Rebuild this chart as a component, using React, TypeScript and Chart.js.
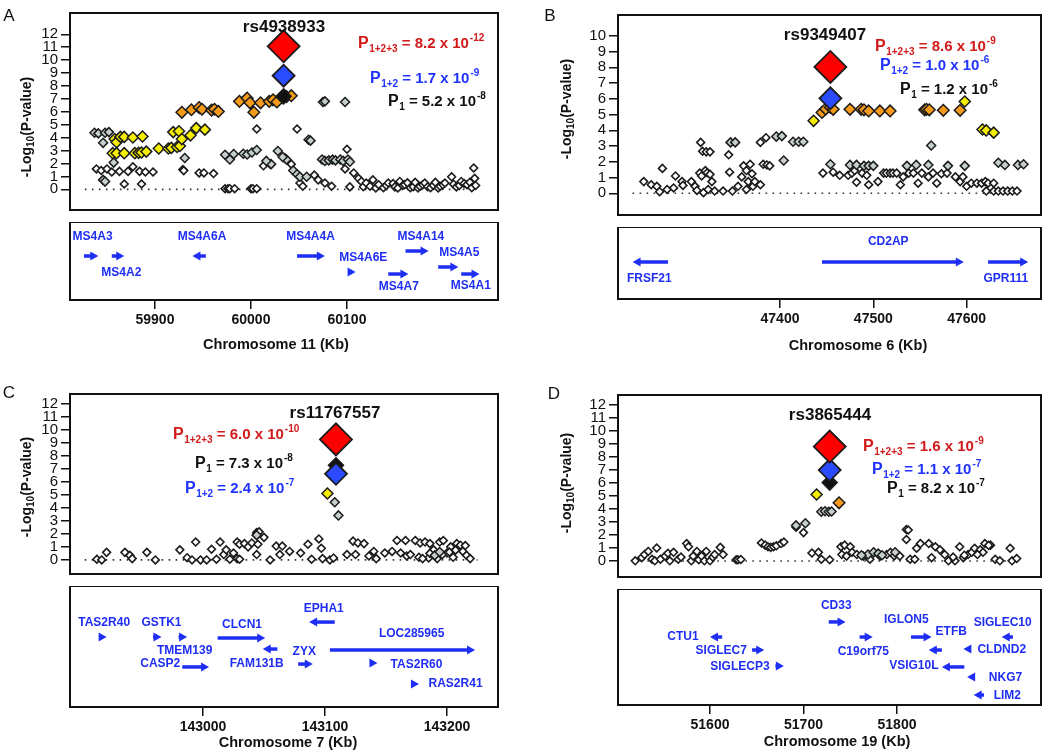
import React, { useEffect, useRef } from 'react';
import { Chart, registerables } from 'chart.js';
Chart.register(...registerables);

const FONT = '"Liberation Sans", Arial, Helvetica, sans-serif';
const GENE_BLUE = '#1f2ef5';

type P = [number, number];
type Gene = [string, number, number, number, number, number, number]; // name, start, end, strand, lane, labelKb, labelLane
type PV = [string, string, string, string]; // colour, subscript, value, exponent

// ================= Panel A (chr 11) =================
const xTicksA = [59900, 60000, 60100];
const yTicksA = [0, 1, 2, 3, 4, 5, 6, 7, 8, 9, 10, 11, 12];
const whiteA: P[] = [
  [59839, 1.58], [59844, 1.46], [59850, 1.58], [59855, 1.34], [59863, 1.39], [59872, 1.39], [59877, 1.75], [59884, 1.39], [59890, 1.34], [59898, 1.34], [59868, 0.41], [59886, 0.41],
  [59929, 1.53], [59930, 1.45], [59946, 1.27], [59951, 1.27], [59961, 1.22],
  [59973, 0.05], [59976, 0.05], [59978, 0.05], [59983, 0.05], [60000, 0.05], [60002, 0.05], [60006, 0.05],
  [60006, 4.67], [60013, 1.82], [60020, 1.95], [60048, 4.67], [60100, 3.1], [60042, 1.95],
  [60051, 0.49], [60054, 0.24], [60066, 1.1], [60070, 0.73], [60077, 0.49], [60084, 0.24], [60098, 1.58], [60107, 1.27], [60103, 0.19],
  [60112, 0.85], [60115, 0.61], [60117, 0.2], [60120, 0.49], [60124, 0.24], [60127, 0.73], [60130, 0.1], [60133, 0.36], [60138, 0.12], [60141, 0.3], [60143, 0.49],
  [60148, 0.45], [60150, 0.19], [60153, 0.1], [60155, 0.61], [60158, 0.3], [60160, 0.36], [60163, 0.5], [60166, 0.12], [60169, 0.2], [60171, 0.54], [60174, 0.1],
  [60176, 0.24], [60179, 0.35], [60181, 0.49], [60184, 0.2], [60187, 0.12], [60190, 0.3], [60192, 0.54], [60195, 0.1], [60197, 0.24], [60200, 0.35], [60202, 0.49],
  [60209, 0.97], [60211, 0.4], [60214, 0.19], [60217, 0.3], [60219, 0.61], [60222, 0.45], [60225, 0.36], [60228, 0.55], [60230, 0.12], [60232, 1.65], [60233, 0.85], [60234, 0.3],
];
const grayA: P[] = [
  [59837, 4.38], [59841, 4.33], [59848, 4.38], [59852, 4.43], [59846, 3.6], [59857, 2.07], [59846, 0.73], [59848, 0.6],
  [59931, 2.43], [59973, 2.68], [59978, 2.31], [59982, 2.73], [59992, 2.75], [59996, 2.7], [60001, 2.85], [60006, 3.04], [60028, 2.97], [60035, 2.43],
  [60037, 2.31], [60033, 2.5], [60021, 1.95], [60016, 2.2], [60044, 1.46], [60048, 1.17], [60051, 0.97], [60058, 0.97], [60060, 3.84], [60062, 3.77],
  [60075, 6.76], [60077, 6.81], [60098, 6.76], [60074, 2.31], [60077, 2.2], [60081, 2.24], [60085, 2.3], [60088, 2.24], [60093, 2.31], [60096, 2.2], [60101, 2.31], [60103, 2.14],
];
const yellowA: P[] = [
  [59856, 2.8], [59858, 3.89], [59860, 3.65], [59860, 2.8], [59864, 4.06], [59868, 4.06], [59868, 2.8], [59877, 4.01], [59879, 2.8], [59883, 2.82], [59886, 2.85],
  [59887, 4.09], [59891, 2.92], [59904, 3.16], [59914, 3.16], [59917, 3.21], [59919, 4.43], [59923, 3.28], [59925, 4.5], [59926, 3.36], [59928, 3.89], [59937, 4.18], [59943, 4.74], [59952, 4.62],
];
const orangeA: P[] = [
  [59928, 5.96], [59938, 6.16], [59946, 6.33], [59949, 6.2], [59959, 6.13], [59962, 6.2], [59966, 6.03], [59988, 6.81], [59996, 7.06], [59999, 6.7],
  [60003, 5.96], [60010, 6.7], [60019, 6.81], [60023, 6.93], [60027, 6.76], [60033, 7.1], [60037, 7.18], [60042, 7.25],
];
const blackA: P[] = [[60034, 7.2]];
const blueA: P[] = [[60034, 8.8]];
const redA: P[] = [[60034, 11.07]];
const baselineA = [59827, 60235];
const pValsA: PV[] = [['red', '1+2+3', '8.2', '-12'], ['blue', '1+2', '1.7', '-9'], ['black', '1', '5.2', '-8']];
const genesA: Gene[] = [
  ['MS4A3', 59826, 59841, 1, 43.6, 59835, 19.2],
  ['MS4A2', 59855, 59868, 1, 43.6, 59865, 65.4],
  ['MS4A6A', 59939, 59953, -1, 43.6, 59949, 19.2],
  ['MS4A4A', 60048, 60077, 1, 43.6, 60062, 19.2],
  ['MS4A6E', 60101, 60109, 1, 64.1, 60117, 46.2],
  ['MS4A14', 60161, 60185, 1, 37.2, 60177, 19.2],
  ['MS4A7', 60143, 60164, 1, 66.7, 60154, 83.3],
  ['MS4A5', 60195, 60216, 1, 57.7, 60217, 39.7],
  ['MS4A1', 60219, 60238, 1, 66.7, 60229, 82],
];

// ================= Panel B (chr 6) =================
const xTicksB = [47400, 47500, 47600];
const yTicksB = [0, 1, 2, 3, 4, 5, 6, 7, 8, 9, 10];
const whiteB: P[] = [
  [47254, 0.74], [47262, 0.54], [47268, 0.44], [47274, 1.58], [47271, 0.1], [47279, 0.24], [47286, 0.34], [47288, 1.1], [47295, 0.74], [47296, 0.5],
  [47305, 0.74], [47309, 0.44], [47311, 0.18], [47314, 1.28], [47316, 1.1], [47318, 0.04], [47320, 1.44], [47317, 2.67], [47321, 2.63], [47325, 2.63],
  [47323, 0.24], [47327, 0.74], [47330, 0.14], [47322, 1.3], [47325, 1.2], [47315, 3.23],
  [47339, 0.14], [47345, 2.44], [47346, 1.34], [47349, 0.14], [47355, 0.44], [47359, 1.04], [47361, 1.74], [47364, 1.44], [47366, 0.74], [47364, 0.24],
  [47368, 1.84], [47370, 1.24], [47371, 0.44], [47373, 0.74], [47379, 0.54], [47379, 3.23], [47385, 3.53], [47382, 1.84], [47386, 1.8], [47389, 1.74],
  [47446, 1.28], [47457, 1.34], [47464, 1.14], [47473, 1.14], [47477, 1.28], [47480, 1.44], [47482, 0.7], [47488, 1.28], [47493, 1.14], [47495, 0.54],
  [47505, 0.74], [47511, 1.28], [47514, 1.28], [47518, 1.28], [47521, 1.28], [47525, 1.28], [47529, 0.54], [47532, 1.04], [47538, 1.28], [47543, 1.28],
  [47548, 0.64], [47552, 1.28], [47559, 1.04], [47564, 1.28], [47568, 0.64], [47573, 1.24], [47579, 1.28], [47588, 1.04], [47593, 0.74], [47596, 1.04],
  [47600, 0.44], [47605, 0.64], [47611, 0.64], [47616, 0.64], [47620, 0.74], [47623, 0.64], [47629, 0.64], [47621, 0.14], [47629, 0.14], [47634, 0.14],
  [47639, 0.14], [47644, 0.14], [47649, 0.14], [47654, 0.14],
];
const grayB: P[] = [
  [47347, 3.23], [47352, 3.23], [47396, 3.6], [47402, 3.63], [47414, 3.27], [47420, 3.27], [47425, 3.27], [47404, 2.08],
  [47454, 1.84], [47475, 1.8], [47482, 1.8], [47490, 1.74], [47495, 1.74], [47500, 1.74], [47536, 1.74], [47546, 1.8], [47559, 1.8], [47562, 3.03],
  [47580, 1.74], [47598, 1.74], [47634, 1.94], [47641, 1.8], [47655, 1.8], [47661, 1.84],
];
const yellowB: P[] = [[47436, 4.6], [47598, 5.83], [47617, 4.05], [47621, 3.99], [47629, 3.85]];
const orangeB: P[] = [
  [47445, 5.13], [47449, 5.35], [47454, 5.45], [47457, 5.33], [47475, 5.33], [47487, 5.33], [47490, 5.3], [47495, 5.23], [47507, 5.23], [47518, 5.23],
  [47555, 5.3], [47557, 5.33], [47560, 5.3], [47575, 5.27], [47593, 5.27],
];
const blackB: P[] = [[47454, 5.92]];
const blueB: P[] = [[47454, 6.03]];
const redB: P[] = [[47454, 8.02]];
const baselineB = [47242, 47657];
const pValsB: PV[] = [['red', '1+2+3', '8.6', '-9'], ['blue', '1+2', '1.0', '-6'], ['black', '1', '1.2', '-6']];
const genesB: Gene[] = [
  ['FRSF21', 47242, 47280, -1, 48.6, 47260, 72.2],
  ['CD2AP', 47445, 47597, 1, 48.6, 47516, 20.8],
  ['GPR111', 47623, 47666, 1, 48.6, 47642, 72.2],
];

// ================= Panel C (chr 7) =================
const xTicksC = [143000, 143100, 143200];
const yTicksC = [0, 1, 2, 3, 4, 5, 6, 7, 8, 9, 10, 11, 12];
const whiteC: P[] = [
  [142913, 0.05], [142917, 0], [142921, 0.58], [142936, 0.58], [142940, 0.35], [142942, 0.1], [142954, 0.58], [142961, 0], [142981, 0.77], [142987, 0.17],
  [142991, 0], [142994, 1.37], [142998, 0], [143003, 0], [143007, 0.82], [143011, 0.05], [143014, 1.37], [143017, 0.41], [143019, 0.77], [143022, 0.05],
  [143025, 0.53], [143028, 0.1], [143030, 0.05], [143028, 1.37], [143030, 1.2], [143034, 1.25], [143037, 1.0], [143040, 1.3], [143044, 2.09], [143046, 2.15],
  [143045, 1.2], [143050, 1.73], [143044, 0.41], [143055, 0], [143060, 1.06], [143065, 1.06], [143063, 0.41], [143071, 0.65], [143080, 0.53], [143086, 1.2],
  [143089, 0.05], [143095, 1.61], [143097, 0.89], [143098, 0.1], [143104, 0], [143107, 0.15], [143118, 0.41], [143123, 1.44], [143125, 0.41], [143127, 1.3],
  [143132, 1.25], [143136, 0.3], [143140, 0.65], [143142, 0.1], [143149, 0.53], [143155, 0.65], [143159, 1.49], [143162, 0.53], [143166, 1.49], [143167, 0.3],
  [143170, 0.41], [143174, 1.49], [143177, 0.2], [143178, 1.3], [143182, 1.37], [143185, 0.15], [143186, 1.25], [143189, 0.77], [143192, 0.1], [143194, 1.37],
  [143197, 1.49], [143200, 0.53], [143203, 1.0], [143205, 0.2], [143208, 1.25], [143211, 1.13], [143213, 0.65], [143215, 1.1], [143216, 0.35], [143219, 0.1],
  [143196, 0.4], [143202, 0.6], [143207, 0.75], [143186, 0.5], [143180, 0.1],
];
const grayC: P[] = [[143108, 4.42], [143111, 3.41], [143190, 0.35], [143194, 0.6], [143044, 1.9]];
const yellowC: P[] = [[143102, 5.09]];
const orangeC: P[] = [];
const blackC: P[] = [[143109, 7.25]];
const blueC: P[] = [[143109, 6.6]];
const redC: P[] = [[143109, 9.24]];
const baselineC = [142903, 143225];
const pValsC: PV[] = [['red', '1+2+3', '6.0', '-10'], ['black', '1', '7.3', '-8'], ['blue', '1+2', '2.4', '-7']];
const genesC: Gene[] = [
  ['TAS2R40', 142915, 142921, 1, 42.1, 142919, 30.6],
  ['GSTK1', 142959, 142966, 1, 42.1, 142966, 30.6],
  ['TMEM139', 142980, 142987, 1, 42.1, 142985, 53.7],
  ['CLCN1', 143012, 143051, 1, 43, 143032, 32.2],
  ['FAM131B', 143049, 143061, -1, 52.1, 143044, 64.5],
  ['CASP2', 142983, 143005, 1, 66.9, 142965, 64.5],
  ['ZYX', 143078, 143090, 1, 64.5, 143083, 54.5],
  ['EPHA1', 143087, 143108, -1, 29.8, 143099, 19],
  ['LOC285965', 143104, 143223, 1, 52.9, 143171, 39.7],
  ['TAS2R60', 143138, 143143, 1, 63.6, 143175, 65.3],
  ['RAS2R41', 143172, 143177, 1, 81, 143207, 81],
];

// ================= Panel D (chr 19) =================
const xTicksD = [51600, 51700, 51800];
const yTicksD = [0, 1, 2, 3, 4, 5, 6, 7, 8, 9, 10, 11, 12];
const whiteD: P[] = [
  [51520, 0.02], [51527, 0.26], [51530, 0.5], [51534, 0.74], [51538, 0.14], [51541, 0.02], [51543, 1.0], [51547, 0.14], [51552, 0.38], [51555, 0.6],
  [51557, 0.02], [51561, 0.67], [51566, 0.14], [51569, 0.3], [51575, 1.34], [51577, 1.1], [51580, 0.02], [51582, 0.38], [51586, 0.74], [51588, 0.1],
  [51591, 0.38], [51594, 0.02], [51596, 0.74], [51600, 0.02], [51603, 0.3], [51605, 0.5], [51611, 1.05], [51614, 0.5],
  [51628, 0.1], [51630, 0.1], [51633, 0.12],
  [51655, 1.39], [51659, 1.22], [51662, 1.1], [51665, 1.05], [51668, 1.1], [51671, 1.17], [51676, 1.34], [51679, 1.46],
  [51700, 2.18], [51692, 2.6],
  [51709, 0.62], [51716, 0.67], [51719, 0.14], [51728, 0.1], [51740, 1.1], [51741, 0.5], [51744, 1.22], [51746, 0.38], [51750, 1.1], [51752, 0.67],
  [51757, 0.5], [51764, 0.38], [51771, 0.14], [51782, 0.38], [51789, 0.5], [51793, 0.67], [51797, 0.4], [51803, 0.38], [51810, 1.65], [51810, 2.42],
  [51812, 2.38], [51814, 0.14], [51819, 0.14], [51821, 0.98], [51825, 1.34], [51834, 1.34], [51837, 0.26], [51841, 1.1], [51846, 0.86], [51851, 0.5],
  [51855, 0.02], [51862, 0.02], [51867, 1.1], [51871, 0.26], [51876, 0.5], [51880, 0.67], [51883, 0.98], [51889, 0.86], [51892, 0.67], [51894, 1.34],
  [51900, 1.22], [51905, 0.14], [51910, 0.02], [51921, 0.98], [51923, 0.02], [51928, 0.2], [51860, 0.3], [51872, 0.45], [51886, 0.5], [51898, 1.2],
];
const grayD: P[] = [
  [51719, 3.78], [51723, 3.82], [51727, 3.78], [51730, 3.8], [51692, 2.73], [51702, 2.9], [51769, 0.5], [51775, 0.67], [51780, 0.57], [51798, 0.67],
  [51784, 0.45], [51762, 0.45],
];
const yellowD: P[] = [[51714, 5.1]];
const orangeD: P[] = [[51738, 4.46]];
const blackD: P[] = [[51728, 6.01]];
const blueD: P[] = [[51728, 6.97]];
const redD: P[] = [[51728, 8.77]];
const baselineD = [51518, 51929];
const pValsD: PV[] = [['red', '1+2+3', '1.6', '-9'], ['blue', '1+2', '1.1', '-7'], ['black', '1', '8.2', '-7']];
const genesD: Gene[] = [
  ['CD33', 51727, 51745, 1, 28.4, 51735, 14.7],
  ['IGLON5', 51815, 51837, 1, 41.4, 51810, 26.7],
  ['C19orf75', 51760, 51774, 1, 41.4, 51764, 54.3],
  ['ETFB', 51834, 51848, -1, 52.6, 51858, 37.1],
  ['SIGLEC10', 51912, 51924, -1, 41.4, 51913, 29.3],
  ['CLDND2', 51871, 51878, -1, 51.7, 51912, 52.6],
  ['CTU1', 51600, 51613, -1, 41.4, 51571, 41.4],
  ['SIGLEC7', 51645, 51658, 1, 52.6, 51612, 53.4],
  ['SIGLECP3', 51670, 51679, 1, 66.4, 51632, 67.2],
  ['VSIG10L', 51848, 51872, -1, 67.2, 51818, 66.4],
  ['NKG7', 51875, 51881, -1, 75.9, 51916, 76.7],
  ['LIM2', 51882, 51893, -1, 91.4, 51918, 92.2],
];

// ================= styles & layout =================
const STY: Record<string, { bg: string; r: number; bw: number }> = {
  white: { bg: '#ffffff', r: 3.9, bw: 1.6 },
  gray: { bg: '#c5cfcf', r: 4.5, bw: 1.5 },
  yellow: { bg: '#f6ee00', r: 5.5, bw: 1.5 },
  orange: { bg: '#f59a1b', r: 5.8, bw: 1.5 },
  black: { bg: '#111111', r: 7.5, bw: 1.5 },
  blue: { bg: '#2a4bff', r: 11, bw: 1.8 },
  red: { bg: '#ff0000', r: 16, bw: 1.8 },
};
const PCOL: Record<string, string> = { red: '#d21a1a', blue: '#1f33ff', black: '#111111' };

interface Panel {
  letter: string; letterPos: P; rs: string; rsPos: P; pvals: PV[]; pPos: P[]; yTitlePos: P;
  xMin: number; xMax: number; yMin: number; yMax: number; xTicks: number[]; yTicks: number[];
  xTitle: string; xTitlePos: P;
  boxLeft: number; boxRight: number; yAxisW: number;
  sc: { left: number; top: number; w: number; h: number; padTop: number; padRight: number };
  gn: { left: number; top: number; w: number; h: number; axisH: number; padRight: number };
  white: P[]; gray: P[]; yellow: P[]; orange: P[]; black: P[]; blue: P[]; red: P[]; baseline: number[]; genes: Gene[];
}

const panels: Panel[] = [
  {
    letter: 'A', letterPos: [9, 16], rs: 'rs4938933', rsPos: [284, 27], pvals: pValsA, pPos: [[358, 42], [370, 77], [388, 100]], yTitlePos: [27, 127],
    xMin: 59811.5, xMax: 60257.3, yMin: -1.6, yMax: 13.65, xTicks: xTicksA, yTicks: yTicksA, xTitle: 'Chromosome 11 (Kb)', xTitlePos: [276, 345],
    boxLeft: 70, boxRight: 498, yAxisW: 70,
    sc: { left: 0, top: 0, w: 510, h: 222, padTop: 13, padRight: 12 },
    gn: { left: 0, top: 222, w: 510, h: 140, axisH: 62, padRight: 12 },
    white: whiteA, gray: grayA, yellow: yellowA, orange: orangeA, black: blackA, blue: blueA, red: redA, baseline: baselineA, genes: genesA,
  },
  {
    letter: 'B', letterPos: [550, 16], rs: 'rs9349407', rsPos: [825, 35], pvals: pValsB, pPos: [[875, 45], [880, 64], [900, 88]], yTitlePos: [567, 109],
    xMin: 47226.4, xMax: 47679.7, yMin: -1.38, yMax: 11.32, xTicks: xTicksB, yTicks: yTicksB, xTitle: 'Chromosome 6 (Kb)', xTitlePos: [858, 346],
    boxLeft: 618, boxRight: 1041, yAxisW: 93,
    sc: { left: 525, top: 0, w: 525, h: 227, padTop: 15, padRight: 9 },
    gn: { left: 525, top: 227, w: 525, h: 135, axisH: 63, padRight: 9 },
    white: whiteB, gray: grayB, yellow: yellowB, orange: orangeB, black: blackB, blue: blueB, red: redB, baseline: baselineB, genes: genesB,
  },
  {
    letter: 'C', letterPos: [9, 393], rs: 'rs11767557', rsPos: [335, 413], pvals: pValsC, pPos: [[173, 433], [195, 462], [185, 487]], yTitlePos: [27, 487],
    xMin: 142891, xMax: 143241.8, yMin: -1.08, yMax: 12.72, xTicks: xTicksC, yTicks: yTicksC, xTitle: 'Chromosome 7 (Kb)', xTitlePos: [288, 743],
    boxLeft: 70, boxRight: 498, yAxisW: 70,
    sc: { left: 0, top: 376, w: 510, h: 210, padTop: 18, padRight: 12 },
    gn: { left: 0, top: 586, w: 510, h: 166, axisH: 45, padRight: 12 },
    white: whiteC, gray: grayC, yellow: yellowC, orange: orangeC, black: blackC, blue: blueC, red: redC, baseline: baselineC, genes: genesC,
  },
  {
    letter: 'D', letterPos: [554, 394], rs: 'rs3865444', rsPos: [830, 415], pvals: pValsD, pPos: [[863, 445], [872, 468], [887, 487]], yTitlePos: [567, 483],
    xMin: 51501.6, xMax: 51954, yMin: -1.22, yMax: 12.72, xTicks: xTicksD, yTicks: yTicksD, xTitle: 'Chromosome 19 (Kb)', xTitlePos: [837, 742],
    boxLeft: 618, boxRight: 1041, yAxisW: 93,
    sc: { left: 525, top: 376, w: 525, h: 213, padTop: 19, padRight: 9 },
    gn: { left: 525, top: 589, w: 525, h: 163, axisH: 47, padRight: 9 },
    white: whiteD, gray: grayD, yellow: yellowD, orange: orangeD, black: blackD, blue: blueD, red: redD, baseline: baselineD, genes: genesD,
  },
];

// ================= drawing helpers =================
function drawP(ctx: CanvasRenderingContext2D, x: number, y: number, pv: PV) {
  const [col, sub, val, exp] = pv;
  ctx.fillStyle = PCOL[col];
  ctx.textAlign = 'left';
  ctx.textBaseline = 'alphabetic';
  const base = y + 5.5;
  ctx.font = `bold 16px ${FONT}`;
  ctx.fillText('P', x, base);
  x += ctx.measureText('P').width + 0.5;
  ctx.font = `bold 10px ${FONT}`;
  ctx.fillText(sub, x, base + 4);
  x += ctx.measureText(sub).width;
  const t = ' = ' + val + ' x 10';
  ctx.font = `bold 15px ${FONT}`;
  ctx.fillText(t, x, base);
  x += ctx.measureText(t).width + 1;
  ctx.font = `bold 10px ${FONT}`;
  ctx.fillText(exp, x, base - 7);
}

function drawYTitle(ctx: CanvasRenderingContext2D, cx: number, cy: number) {
  ctx.save();
  ctx.translate(cx, cy);
  ctx.rotate(-Math.PI / 2);
  ctx.fillStyle = '#111';
  ctx.textAlign = 'left';
  ctx.textBaseline = 'middle';
  const big = `bold 14px ${FONT}`;
  const sm = `bold 10px ${FONT}`;
  ctx.font = big;
  const w1 = ctx.measureText('-Log').width;
  const w3 = ctx.measureText('(P-value)').width;
  ctx.font = sm;
  const w2 = ctx.measureText('10').width;
  let x = -(w1 + w2 + w3) / 2;
  ctx.font = big;
  ctx.fillText('-Log', x, 0);
  x += w1;
  ctx.font = sm;
  ctx.fillText('10', x, 4);
  x += w2;
  ctx.font = big;
  ctx.fillText('(P-value)', x, 0);
  ctx.restore();
}

function scatterConfig(p: Panel): any {
  const layers: [string, P[]][] = [
    ['red', p.red], ['blue', p.blue], ['black', p.black], ['orange', p.orange], ['yellow', p.yellow], ['gray', p.gray], ['white', p.white],
  ];
  const datasets: any[] = layers.map(([k, pts]) => ({
    type: 'scatter',
    data: pts.map(([x, y]) => ({ x, y })),
    pointStyle: 'rectRot',
    pointRadius: STY[k].r,
    pointHoverRadius: STY[k].r,
    pointBackgroundColor: STY[k].bg,
    pointBorderColor: '#1b1b1b',
    pointBorderWidth: STY[k].bw,
    showLine: false,
  }));
  datasets.push({
    type: 'line',
    data: p.baseline.map((x) => ({ x, y: 0 })),
    borderColor: '#333',
    borderWidth: 1.6,
    borderDash: [1.6, 5.4],
    pointRadius: 0,
    fill: false,
  });
  return {
    type: 'scatter',
    data: { datasets },
    options: {
      responsive: false,
      animation: false,
      events: [],
      layout: { autoPadding: false, padding: { left: 0, top: p.sc.padTop, right: p.sc.padRight, bottom: 0 } },
      plugins: { legend: { display: false }, tooltip: { enabled: false } },
      scales: {
        x: { type: 'linear', display: false, min: p.xMin, max: p.xMax },
        y: {
          type: 'linear',
          min: p.yMin,
          max: p.yMax,
          afterBuildTicks: (s: any) => { s.ticks = p.yTicks.map((v) => ({ value: v })); },
          afterFit: (s: any) => { s.width = p.yAxisW; },
          ticks: { autoSkip: false, font: { family: FONT, size: 15 }, color: '#111', padding: 3, callback: (v: any) => String(v) },
          grid: { drawOnChartArea: false, drawTicks: true, tickLength: 9, color: '#111', lineWidth: 1.5 },
          border: { display: false },
        },
      },
    },
    plugins: [
      {
        id: 'scatterDeco',
        afterDraw: (chart: any) => {
          const ctx: CanvasRenderingContext2D = chart.ctx;
          const ca = chart.chartArea;
          const ox = p.sc.left;
          const oy = p.sc.top;
          ctx.save();
          ctx.strokeStyle = '#111';
          ctx.lineWidth = 2;
          ctx.strokeRect(ca.left, ca.top, ca.right - ca.left, ca.bottom - ca.top);
          ctx.fillStyle = '#111';
          ctx.textAlign = 'center';
          ctx.textBaseline = 'middle';
          ctx.font = `17px ${FONT}`;
          ctx.fillText(p.letter, p.letterPos[0] - ox, p.letterPos[1] - oy);
          ctx.font = `bold 17px ${FONT}`;
          ctx.fillText(p.rs, p.rsPos[0] - ox, p.rsPos[1] - oy);
          p.pvals.forEach((pv, i) => drawP(ctx, p.pPos[i][0] - ox, p.pPos[i][1] - oy, pv));
          drawYTitle(ctx, p.yTitlePos[0] - ox, p.yTitlePos[1] - oy);
          ctx.restore();
        },
      },
    ],
  };
}

function geneConfig(p: Panel): any {
  const kbPerPx = (p.xMax - p.xMin) / (p.boxRight - p.boxLeft);
  const datasets: any[] = p.genes.map(([, s, e, strand, lane]) => {
    const tip = strand > 0 ? e : s;
    const tail = strand > 0 ? s : e;
    const end = tip - strand * 5 * kbPerPx;
    const pts = (end - tail) * strand > 0 ? [{ x: tail, y: lane }, { x: end, y: lane }] : [];
    return { type: 'line', data: pts, borderColor: GENE_BLUE, borderWidth: 3.5, borderCapStyle: 'butt', pointRadius: 0, fill: false };
  });
  return {
    type: 'line',
    data: { datasets },
    options: {
      responsive: false,
      animation: false,
      events: [],
      layout: { autoPadding: false, padding: { left: p.yAxisW, top: 0, right: p.gn.padRight, bottom: 0 } },
      plugins: { legend: { display: false }, tooltip: { enabled: false } },
      scales: {
        x: {
          type: 'linear',
          position: 'bottom',
          min: p.xMin,
          max: p.xMax,
          afterBuildTicks: (s: any) => { s.ticks = p.xTicks.map((v) => ({ value: v })); },
          afterFit: (s: any) => { s.height = p.gn.axisH; },
          ticks: { autoSkip: false, maxRotation: 0, font: { family: FONT, size: 14, weight: 'bold' }, color: '#111', padding: 3, callback: (v: any) => String(v) },
          grid: { drawOnChartArea: false, drawTicks: true, tickLength: 9, color: '#111', lineWidth: 1.5 },
          border: { display: false },
        },
        y: { type: 'linear', display: false, min: 0, max: 100, reverse: true },
      },
    },
    plugins: [
      {
        id: 'geneDeco',
        afterDraw: (chart: any) => {
          const ctx: CanvasRenderingContext2D = chart.ctx;
          const ca = chart.chartArea;
          const xs = chart.scales.x;
          const ys = chart.scales.y;
          ctx.save();
          ctx.strokeStyle = '#111';
          ctx.lineWidth = 2;
          ctx.strokeRect(ca.left, ca.top, ca.right - ca.left, ca.bottom - ca.top);
          ctx.fillStyle = GENE_BLUE;
          ctx.textAlign = 'center';
          ctx.textBaseline = 'middle';
          ctx.font = `bold 12px ${FONT}`;
          p.genes.forEach(([name, s, e, strand, lane, lkb, llane]) => {
            const tip = xs.getPixelForValue(strand > 0 ? e : s);
            const y = ys.getPixelForValue(lane);
            ctx.beginPath();
            ctx.moveTo(tip, y);
            ctx.lineTo(tip - strand * 8, y - 4.5);
            ctx.lineTo(tip - strand * 8, y + 4.5);
            ctx.closePath();
            ctx.fill();
            ctx.fillText(name, xs.getPixelForValue(lkb), ys.getPixelForValue(llane));
          });
          ctx.fillStyle = '#111';
          ctx.font = `bold 14.5px ${FONT}`;
          ctx.fillText(p.xTitle, p.xTitlePos[0] - p.gn.left, p.xTitlePos[1] - p.gn.top);
          ctx.restore();
        },
      },
    ],
  };
}

function ChartCanvas({ left, top, width, height, build }: { left: number; top: number; width: number; height: number; build: () => any }) {
  const ref = useRef<HTMLCanvasElement>(null);
  useEffect(() => {
    const chart = new Chart(ref.current as HTMLCanvasElement, build());
    return () => chart.destroy();
  }, []);
  return (
    <canvas
      ref={ref}
      width={width}
      height={height}
      style={{ position: 'absolute', left, top, width, height, display: 'block' }}
    />
  );
}

export default function App() {
  return (
    <div style={{ position: 'fixed', left: 0, top: 0, width: 1050, height: 752, background: '#ffffff', overflow: 'hidden' }}>
      {panels.map((p) => (
        <React.Fragment key={p.letter}>
          <ChartCanvas left={p.sc.left} top={p.sc.top} width={p.sc.w} height={p.sc.h} build={() => scatterConfig(p)} />
          <ChartCanvas left={p.gn.left} top={p.gn.top} width={p.gn.w} height={p.gn.h} build={() => geneConfig(p)} />
        </React.Fragment>
      ))}
    </div>
  );
}
